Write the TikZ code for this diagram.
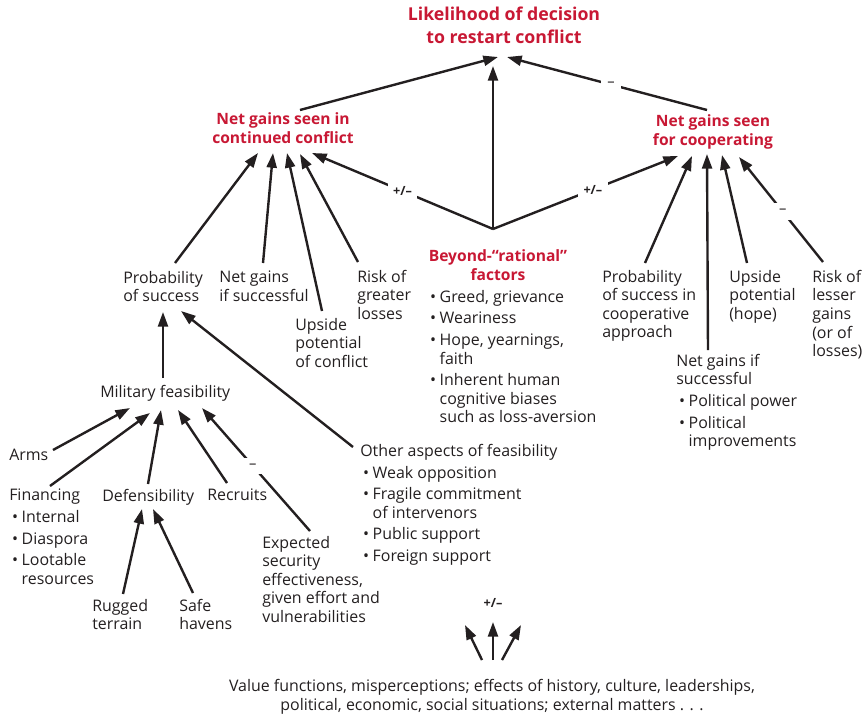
\documentclass[tikz,border=0pt]{standalone}
\usepackage{fontspec}
\setmainfont{Open Sans}
\usetikzlibrary{arrows.meta,calc}
\definecolor{hdred}{RGB}{200,24,52}
\definecolor{ink}{RGB}{35,31,32}
\newlength{\bulw}\setlength{\bulw}{9.3pt}
\newcommand{\bul}{\makebox[\bulw][l]{\hspace{2.2pt}•}}
\newcommand{\hang}{\hspace*{\bulw}}
\newcommand{\isep}{\\[2.3pt]}
\begin{document}
\begin{tikzpicture}[x=0.75pt,y=-0.75pt,
  txt/.style={anchor=north west, inner sep=0pt, align=left, text=ink,
    font=\fontsize{11.95}{13.9}\selectfont},
  hd/.style={anchor=north, inner sep=0pt, align=center, text=hdred,
    font=\bfseries\fontsize{11.7}{14.25}\selectfont},
  ttl/.style={anchor=north, inner sep=0pt, align=center, text=hdred,
    font=\bfseries\fontsize{13.3}{17.25}\selectfont},
  arr/.style={draw=ink, line width=1.8pt, -{Triangle[length=11pt,width=7.5pt]}},
  sgn/.style={fill=white, inner sep=4pt, text=ink,
    font=\bfseries\fontsize{9.5}{11}\selectfont},
  dsh/.style={fill=white, inner sep=4.5pt, text=ink,
    font=\fontsize{11}{12}\selectfont}]
\useasboundingbox (0,0) rectangle (865,715);

% ---- headings
\node[ttl] (goal) at (504,7) {Likelihood of decision\\to restart conflict};
\node[hd] (ngc) at (283,112) {Net gains seen in\\continued conflict};
\node[hd] (ngco) at (713,114) {Net gains seen\\for cooperating};
\node[hd] (beyond) at (498,249) {Beyond\mbox{-}“rational”\\factors};
\node[txt] (beyondlist) at (427,290) {\bul Greed, grievance\isep
  \bul Weariness\isep
  \bul Hope, yearnings,\\ \hang faith\isep
  \bul Inherent human\\ \hang cognitive biases\\ \hang such as loss-aversion};

% ---- factors of continued conflict
\node[txt] (prob) at (123,271) {Probability\\of success};
\node[txt] (ngs) at (219,271) {Net gains\\if successful};
\node[txt] (ups) at (295,318) {Upside\\potential\\of conflict};
\node[txt] (risk) at (357,270) {Risk of\\greater\\losses};

% ---- factors of cooperating
\node[txt] (probc) at (602,270) {Probability\\of success in\\cooperative\\approach};
\node[txt] (upc) at (729,270) {Upside\\potential\\(hope)};
\node[txt] (riskc) at (812,270) {Risk of\\lesser\\gains\\(or of\\losses)};
\node[txt] (ngsc) at (676,354) {Net gains if\\successful\isep
  \bul Political power\isep
  \bul Political\\ \hang improvements};

% ---- feasibility
\node[txt] (mil) at (100,385) {Military feasibility};
\node[txt] (arms) at (9,449) {Arms};
\node[txt] (fin) at (9,489) {Financing\isep
  \bul Internal\isep \bul Diaspora\isep \bul Lootable\\ \hang resources};
\node[txt] (def) at (102,489) {Defensibility};
\node[txt] (rec) at (207,489) {Recruits};
\node[txt] (exp) at (262,536) {Expected\\security\\effectiveness,\\given effort and\\vulnerabilities};
\node[txt] (other) at (360,444) {Other aspects of feasibility\isep
  \bul Weak opposition\isep
  \bul Fragile commitment\\ \hang of intervenors\isep
  \bul Public support\isep
  \bul Foreign support};
\node[txt] (rug) at (92,599) {Rugged\\terrain};
\node[txt] (safe) at (179,599) {Safe\\havens};

% ---- background influences
\node[inner sep=0pt, text=ink, font=\bfseries\fontsize{9.5}{11}\selectfont] (pm) at (493,603) {+/–};
\node[txt, anchor=north, align=center] (bot) at (492,679)
  {Value functions, misperceptions; effects of history, culture, leaderships,\\
   political, economic, social situations; external matters . . .};

% ---- connectors to the decision
\draw[arr] ($(ngc.north)+(17,-2)$) -- ($(goal.north)+(-6,50)$);
\draw[arr] ($(beyond.north)+(-5,-20)$) -- ($(goal.north)+(-11,59)$);
\draw[arr] ($(ngco.north)+(-6,-4)$) -- node[dsh, pos=0.48] {–} ($(goal.north)+(3,50)$);
\draw[arr] ($(beyond.north)+(-5,-20)$) -- node[sgn, pos=0.5] {+/–} ($(ngc.north)+(29,41)$);
\draw[arr] ($(beyond.north)+(-5,-20)$) -- node[sgn, pos=0.54] {+/–} ($(ngco.north)+(-35,42)$);

% ---- connectors to continued conflict
\draw[arr] ($(prob.north west)+(52,-8)$) -- ($(ngc.north)+(-25,41)$);
\draw[arr] ($(ngs.north west)+(44,-8)$) -- ($(ngc.north)+(-10,41)$);
\draw[arr] ($(ups.north west)+(27,-7)$) -- ($(ngc.north)+(4,41)$);
\draw[arr] ($(risk.north west)+(1,-8)$) -- ($(ngc.north)+(17,42)$);

% ---- connectors to cooperating
\draw[arr] ($(probc.north west)+(43,-7)$) -- ($(ngco.north)+(-21,42)$);
\draw[arr] ($(ngsc.north west)+(32,-4)$) -- ($(ngco.north)+(-6,40)$);
\draw[arr] ($(upc.north west)+(18,-7)$) -- ($(ngco.north)+(9,41)$);
\draw[arr] ($(riskc.north west)+(11,-8)$) -- node[dsh, pos=0.48] {–} ($(ngco.north)+(26,43)$);

% ---- connectors to probability of success
\draw[arr] ($(mil.north west)+(63,-7)$) -- ($(prob.north west)+(40,41)$);
\draw[arr] ($(other.north west)+(-7,3)$) -- ($(prob.north west)+(58,40)$);

% ---- connectors to military feasibility
\draw[arr] ($(arms.north west)+(44,1)$) -- ($(mil.north west)+(30,23)$);
\draw[arr] ($(fin.north west)+(41,-3)$) -- ($(mil.north west)+(50,28)$);
\draw[arr] ($(def.north west)+(46,-5)$) -- ($(mil.north west)+(61,25)$);
\draw[arr] ($(rec.north west)+(20,-6)$) -- ($(mil.north west)+(78,25)$);
\draw[arr] ($(exp.north west)+(48,-5)$) -- node[dsh, pos=0.53] {–} ($(mil.north west)+(102,23)$);

% ---- connectors to defensibility
\draw[arr] ($(rug.north west)+(31,-5)$) -- ($(def.north west)+(40,20)$);
\draw[arr] ($(safe.north west)+(14,-6)$) -- ($(def.north west)+(51,20)$);

% ---- three rising influences
\draw[arr] ($(bot.north)+(-10,-19)$) -- ($(pm)+(-28,22)$);
\draw[arr] ($(bot.north)+(1,-19)$) -- ($(pm)+(0,19)$);
\draw[arr] ($(bot.north)+(10,-19)$) -- ($(pm)+(28,22)$);
\end{tikzpicture}
\end{document}
